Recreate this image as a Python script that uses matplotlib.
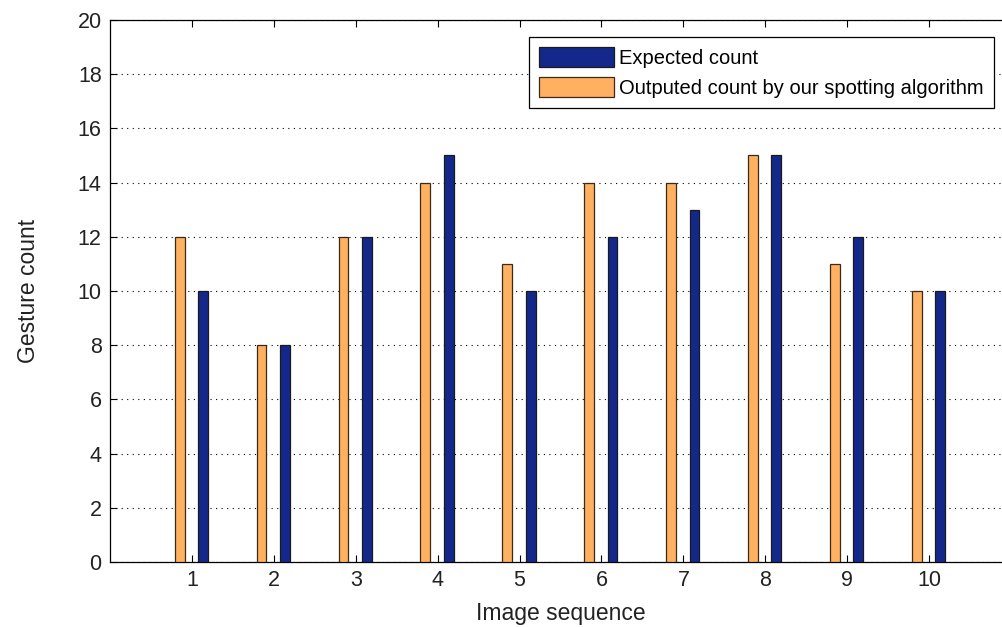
import numpy as np
import matplotlib.pyplot as plt

plt.rcParams['font.family'] = ['Liberation Sans', 'DejaVu Sans']

seq = [1, 2, 3, 4, 5, 6, 7, 8, 9, 10]
expected = [10, 8, 12, 15, 10, 12, 13, 15, 12, 10]
outputed = [12, 8, 12, 14, 11, 14, 14, 15, 11, 10]

fig = plt.figure(figsize=(10.03, 6.27), dpi=100)
# right side of the axes is cut off in the original
ax = fig.add_axes([0.1097, 0.1037, 0.8983, 0.8644])

x = np.array(seq)
w = 0.12
ax.bar(x + 0.135, expected, w, color='#14288C', edgecolor='#1a1a1a', linewidth=0.9,
       label='Expected count', zorder=3)
ax.bar(x - 0.15, outputed, w, color='#FFB061', edgecolor='#3a2a1a', linewidth=0.9,
       label='Outputed count by our spotting algorithm', zorder=3)

ax.set_xlim(0, 11)
ax.set_ylim(0, 20)
ax.set_xticks(seq)
ax.set_yticks(range(0, 21, 2))
ax.yaxis.grid(True, linestyle=(0, (1, 4)), color='black', linewidth=0.8)
ax.tick_params(direction='in', top=True, right=True, length=5, labelsize=15.5, pad=6,
               labelcolor='#222222')
for s in ax.spines.values():
    s.set_linewidth(0.9)

ax.set_xlabel('Image sequence', fontsize=16.5, labelpad=8, color='#222222')
ax.set_ylabel('Gesture count', fontsize=16.5, labelpad=27, color='#222222')

leg = ax.legend(loc='upper right', bbox_to_anchor=(0.981, 0.9686), borderaxespad=0,
                fontsize=14.5, fancybox=False, framealpha=1, edgecolor='black',
                borderpad=0.5, handlelength=3.75, handleheight=1.15,
                labelspacing=0.45, handletextpad=0.25)
leg.get_frame().set_linewidth(0.9)

fig.savefig('out.png', dpi=100)
